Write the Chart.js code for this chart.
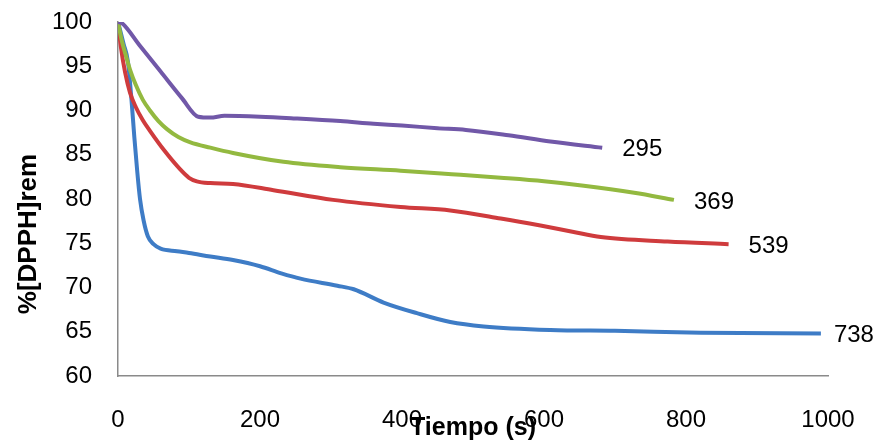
<!DOCTYPE html>
<html>
<head>
<meta charset="utf-8">
<script src="https://cdn.jsdelivr.net/npm/chart.js@4.4.1/dist/chart.umd.min.js"></script>
<style>
  html, body { margin: 0; padding: 0; background: #ffffff; }
  canvas { display: block; }
</style>
</head>
<body>
<canvas id="chart" width="878" height="446"></canvas>
<script>
// Decay of remaining DPPH (%) over time, one curve per sample
const seriesNames = ['295', '369', '539', '738'];

const tiempo295 = [0, 5, 30, 60, 90, 113, 130, 150, 200, 250, 313, 360, 400, 450, 490, 550, 609, 682];
const dpph295   = [100, 99.9, 97.4, 94.4, 91.4, 89.3, 89.2, 89.4, 89.3, 89.1, 88.8, 88.5, 88.3, 88.0, 87.8, 87.2, 86.5, 85.8];

const tiempo369 = [0, 5, 10, 17, 25, 35, 45, 57, 69, 85, 102, 130, 162, 233, 313, 398, 470, 539, 600, 656, 727, 783];
const dpph369   = [100, 98.0, 96.5, 94.6, 92.9, 91.2, 90.0, 88.8, 87.9, 87.0, 86.4, 85.8, 85.2, 84.2, 83.6, 83.2, 82.8, 82.4, 82.0, 81.5, 80.7, 79.9];

const tiempo539 = [0, 4, 10, 17, 25, 35, 45, 65, 87, 100, 111, 130, 162, 219, 303, 398, 468, 539, 595, 640, 680, 774, 860];
const dpph539   = [100, 97.2, 94.3, 92.0, 90.4, 88.9, 87.7, 85.5, 83.4, 82.4, 82.0, 81.8, 81.7, 81.0, 79.9, 79.1, 78.7, 77.8, 77.0, 76.3, 75.7, 75.2, 74.9];

const tiempo738 = [0, 8, 14, 19, 23, 27, 31, 36, 42, 50, 60, 83, 100, 130, 162, 200, 230, 257, 309, 332, 374, 421, 468, 515, 609, 700, 821, 990];
const dpph738   = [100, 97.5, 95.5, 91.2, 87.0, 83.2, 80.0, 77.6, 75.8, 74.9, 74.4, 74.1, 73.9, 73.5, 73.1, 72.4, 71.6, 71.0, 70.2, 69.8, 68.3, 67.1, 66.1, 65.6, 65.2, 65.1, 64.9, 64.8];

const xAxisTitle = 'Tiempo (s)';
const yAxisTitle = '%[DPPH]rem';

const toPoints = (xs, ys) => xs.map((x, i) => ({ x, y: ys[i] }));

const seriesStyles = [
  { color: '#7158A8', labelGap: 20 },
  { color: '#93B940', labelGap: 20 },
  { color: '#CF3B3D', labelGap: 20 },
  { color: '#3E7CC6', labelGap: 13 }
];

const seriesData = [
  toPoints(tiempo295, dpph295),
  toPoints(tiempo369, dpph369),
  toPoints(tiempo539, dpph539),
  toPoints(tiempo738, dpph738)
];

const datasets = seriesData.map((pts, i) => ({
  label: seriesNames[i],
  data: pts,
  borderColor: seriesStyles[i].color,
  backgroundColor: seriesStyles[i].color,
  borderWidth: 4,
  pointRadius: 0,
  cubicInterpolationMode: 'monotone',
  fill: false,
  labelGap: seriesStyles[i].labelGap
}));

const TEXT_FONT = '"Liberation Sans", Arial, sans-serif';

// Axis titles and end-of-line labels
const annotations = {
  id: 'annotations',
  afterDraw(chart) {
    const { ctx, chartArea } = chart;
    ctx.save();
    ctx.fillStyle = '#000000';

    // end-of-curve labels
    ctx.font = '24px ' + TEXT_FONT;
    ctx.textAlign = 'left';
    ctx.textBaseline = 'middle';
    chart.data.datasets.forEach((ds, i) => {
      const meta = chart.getDatasetMeta(i);
      const last = meta.data[meta.data.length - 1];
      ctx.fillText(ds.label, last.x + ds.labelGap, last.y + 2);
    });

    // x axis title
    ctx.font = 'bold 25px ' + TEXT_FONT;
    ctx.textAlign = 'center';
    ctx.textBaseline = 'alphabetic';
    ctx.fillText(xAxisTitle, (chartArea.left + chartArea.right) / 2, chartArea.bottom + 59);

    // y axis title
    ctx.font = 'bold 26px ' + TEXT_FONT;
    ctx.translate(36, chartArea.top + 212);
    ctx.rotate(-Math.PI / 2);
    ctx.fillText(yAxisTitle, 0, 0);
    ctx.restore();
  }
};

new Chart(document.getElementById('chart'), {
  type: 'line',
  data: { datasets },
  plugins: [annotations],
  options: {
    responsive: false,
    animation: false,
    devicePixelRatio: 1,
    layout: { padding: { top: 22, right: 50, left: 0, bottom: 0 } },
    plugins: {
      legend: { display: false },
      tooltip: { enabled: false }
    },
    scales: {
      x: {
        type: 'linear',
        min: 0,
        max: 1000,
        ticks: {
          stepSize: 200,
          padding: 30,
          color: '#000000',
          font: { family: TEXT_FONT, size: 24 },
          maxRotation: 0,
          callback: (v) => String(v)
        },
        grid: { display: false, drawTicks: false },
        border: { display: true, color: '#8a8a8a', width: 1.5 },
        afterFit(scale) {
          scale.height = 70;
          scale.paddingLeft = 0;
          scale.paddingRight = 0;
        }
      },
      y: {
        type: 'linear',
        min: 60,
        max: 100,
        ticks: {
          stepSize: 5,
          padding: 26,
          color: '#000000',
          font: { family: TEXT_FONT, size: 24 },
          callback: (v) => String(v)
        },
        grid: { display: false, drawTicks: false },
        border: { display: true, color: '#8a8a8a', width: 1.5 },
        afterFit(scale) {
          scale.width = 118;
          scale.paddingTop = 0;
          scale.paddingBottom = 0;
        }
      }
    }
  }
});
</script>
</body>
</html>
